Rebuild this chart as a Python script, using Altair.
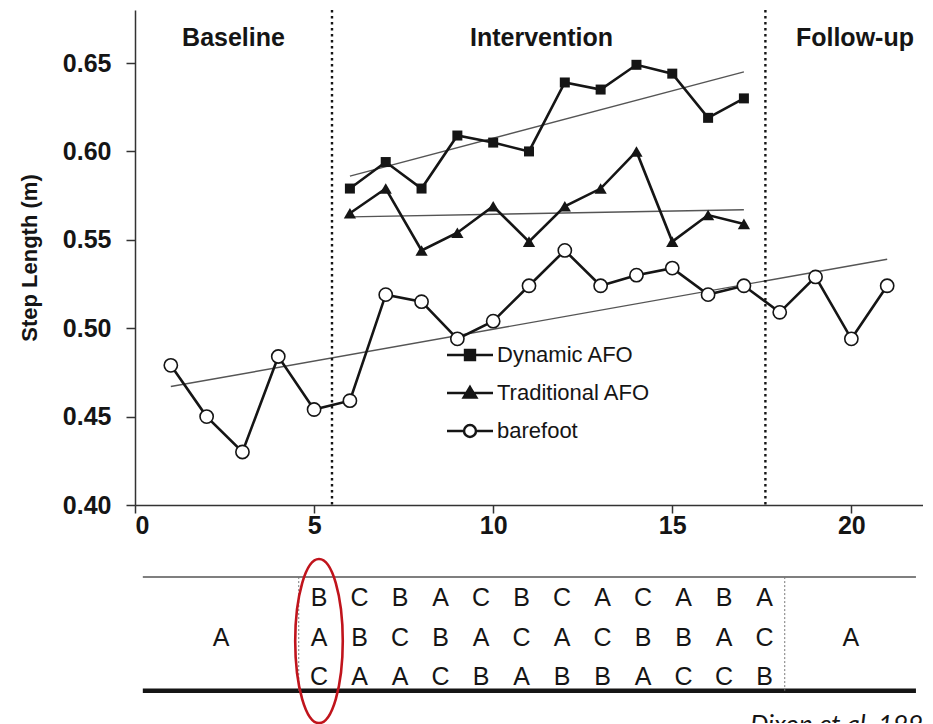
import altair as alt
import pandas as pd

# ---------------- data ----------------
bare_sessions = list(range(1, 22))
barefoot = [0.479, 0.450, 0.430, 0.484, 0.454, 0.459, 0.519, 0.515, 0.494, 0.504,
            0.524, 0.544, 0.524, 0.530, 0.534, 0.519, 0.524, 0.509, 0.529, 0.494, 0.524]

afo_sessions = list(range(6, 18))
dynamic_afo = [0.579, 0.594, 0.579, 0.609, 0.605, 0.600, 0.639, 0.635, 0.649, 0.644, 0.619, 0.630]
traditional_afo = [0.565, 0.579, 0.544, 0.554, 0.569, 0.549, 0.569, 0.579, 0.600, 0.549, 0.564, 0.559]

series_names = ["Dynamic AFO", "Traditional AFO", "barefoot"]

# linear trend lines (end points)
trend_sessions = {"Dynamic AFO": [6, 17], "Traditional AFO": [6, 17], "barefoot": [1, 21]}
trend_values = {"Dynamic AFO": [0.586, 0.645], "Traditional AFO": [0.563, 0.567], "barefoot": [0.467, 0.539]}

phase_boundaries = [5.5, 17.6]
phase_names = ["Baseline", "Intervention", "Follow-up"]
phase_centers = [2.75, 11.35, 20.1]
phase_label_level = 0.664

x_ticks = [0, 5, 10, 15, 20]
y_ticks = [0.40, 0.45, 0.50, 0.55, 0.60, 0.65]

# condition order table
baseline_condition = "A"
followup_condition = "A"
order_rows = ["BCBACBCACABA", "ABCBACACBBAC", "CAACBABBACCB"]
citation = "Dixon et al. 1999"

# ---------------- tables ----------------
rows = []
for s, v in zip(bare_sessions, barefoot):
    rows.append({"session": s, "value": v, "series": "barefoot"})
for s, v in zip(afo_sessions, dynamic_afo):
    rows.append({"session": s, "value": v, "series": "Dynamic AFO"})
for s, v in zip(afo_sessions, traditional_afo):
    rows.append({"session": s, "value": v, "series": "Traditional AFO"})
df = pd.DataFrame(rows)

trows = []
for name in series_names:
    for s, v in zip(trend_sessions[name], trend_values[name]):
        trows.append({"session": s, "value": v, "series": name})
tdf = pd.DataFrame(trows)

phase_df = pd.DataFrame({"session": phase_centers, "value": [phase_label_level] * 3, "label": phase_names})
bound_df = pd.DataFrame({"session": phase_boundaries})

FONT = "Liberation Sans"
INK = "#151515"

xenc = alt.X("session:Q", scale=alt.Scale(domain=[0, 22], nice=False),
             axis=alt.Axis(values=x_ticks, title=None, format="d", labelFontSize=25, labelFontWeight="bold",
                           labelPadding=0, tickSize=8))
yenc = alt.Y("value:Q", scale=alt.Scale(domain=[0.40, 0.68], nice=False, zero=False),
             axis=alt.Axis(values=y_ticks, format=".2f", title="Step Length (m)", labelFontSize=25,
                           labelFontWeight="bold", labelPadding=15, tickSize=9, titleFontSize=22,
                           titleFontWeight="bold", titlePadding=21))

lines = alt.Chart(df).mark_line(color=INK, strokeWidth=2.6).encode(x=xenc, y=yenc, detail="series:N")
trends = alt.Chart(tdf).mark_line(color="#555555", strokeWidth=1.4).encode(x=xenc, y=yenc, detail="series:N")
bounds = alt.Chart(bound_df).mark_rule(color=INK, strokeWidth=2.4, strokeDash=[2.5, 3.5]).encode(x=xenc)

sq = alt.Chart(df).transform_filter(alt.datum.series == "Dynamic AFO").mark_point(
    shape="square", filled=True, color=INK, size=100, opacity=1).encode(x=xenc, y=yenc)
tri = alt.Chart(df).transform_filter(alt.datum.series == "Traditional AFO").mark_point(
    shape="triangle-up", filled=True, color=INK, size=150, opacity=1).encode(x=xenc, y=yenc)
circ = alt.Chart(df).transform_filter(alt.datum.series == "barefoot").mark_point(
    shape="circle", filled=True, fill="white", stroke=INK, strokeWidth=1.6, size=175, opacity=1).encode(x=xenc, y=yenc)

phase_text = alt.Chart(phase_df).mark_text(font=FONT, fontSize=25, fontWeight="bold", color=INK).encode(
    x=xenc, y=yenc, text="label:N")

legend_paths = [
    "M-2,0H2M-0.43,-0.43H0.43V0.43H-0.43Z",
    "M-2,0H2M0,-0.52L0.55,0.4L-0.55,0.4Z",
    "M-2,0H-0.52M0.52,0H2M0.52,0A0.52,0.52,0,1,1,-0.52,0A0.52,0.52,0,1,1,0.52,0Z",
]
leg = alt.Legend(title=None, orient="none", legendX=322, legendY=332, symbolSize=529,
                 symbolStrokeWidth=2.5, labelFontSize=22, labelFont=FONT,
                 labelColor=INK, labelOffset=14, rowPadding=14, padding=0, symbolOpacity=1)
legend_layer = alt.Chart(df).transform_filter("false").mark_point(
    filled=True, stroke=INK, strokeWidth=2.5, opacity=1).encode(
    x=xenc, y=yenc,
    shape=alt.Shape("series:N", scale=alt.Scale(domain=series_names, range=legend_paths), legend=leg),
    fill=alt.Fill("series:N", scale=alt.Scale(domain=series_names, range=[INK, INK, "white"]), legend=leg),
)

top = alt.layer(trends, lines, bounds, sq, tri, circ, phase_text, legend_layer).properties(width=788, height=495)

# ---------------- condition order table ----------------
letters = []
for ri, row in enumerate(order_rows):
    for ci, ch in enumerate(row):
        letters.append({"c": ci + 1, "r": ri + 1, "t": ch})
n_cols = len(order_rows[0])
letters.append({"c": -1.42, "r": 2, "t": baseline_condition})
letters.append({"c": n_cols + 2.13, "r": 2, "t": followup_condition})
letters_df = pd.DataFrame(letters)

left_edge, right_edge = -3.35, n_cols + 3.74
top_rule_r, bottom_rule_r = 0.47, 3.35
hrule_df = pd.DataFrame({"c": [left_edge, left_edge], "c2": [right_edge, right_edge],
                         "r": [top_rule_r, bottom_rule_r], "kind": ["thin", "thick"]})
vrule_df = pd.DataFrame({"c": [0.5, n_cols + 0.5], "r": [top_rule_r] * 2, "r2": [bottom_rule_r] * 2})
ellipse_df = pd.DataFrame({"c": [1], "r": [2.09]})
cite_df = pd.DataFrame({"c": [11.64], "r": [3.88], "t": [citation]})

cx = alt.X("c:Q", scale=alt.Scale(domain=[-3.543, 15.914], nice=False, zero=False), axis=None)
ry = alt.Y("r:Q", scale=alt.Scale(domain=[-0.19, 4.164], nice=False, zero=False, reverse=True), axis=None)

thin_rule = alt.Chart(hrule_df).transform_filter(alt.datum.kind == "thin").mark_rule(
    color="#555555", strokeWidth=1.6).encode(x=cx, x2="c2:Q", y=ry)
thick_rule = alt.Chart(hrule_df).transform_filter(alt.datum.kind == "thick").mark_rule(
    color=INK, strokeWidth=4.5).encode(x=cx, x2="c2:Q", y=ry)
vrules = alt.Chart(vrule_df).mark_rule(color="#777777", strokeWidth=1, strokeDash=[2, 2]).encode(
    x=cx, y=ry, y2="r2:Q")
letter_text = alt.Chart(letters_df).mark_text(font=FONT, fontSize=25, color=INK).encode(x=cx, y=ry, text="t:N")
ellipse = alt.Chart(ellipse_df).mark_point(
    shape="M-0.29,0A0.29,1,0,1,1,0.29,0A0.29,1,0,1,1,-0.29,0Z", filled=False, stroke="#c0141c",
    strokeWidth=2.6, size=26896, opacity=1).encode(x=cx, y=ry)
cite = alt.Chart(cite_df).mark_text(font="Lato", fontSize=26, fontStyle="italic", color=INK,
                                    align="left", baseline="top", clip=True).encode(x=cx, y=ry, text="t:N")

table = alt.layer(thin_rule, thick_rule, vrules, letter_text, ellipse, cite).properties(width=788, height=172)

chart = alt.vconcat(top, table, spacing=46, bounds="flush").properties(
    padding={"left": 10, "top": 0, "right": 0, "bottom": 0}, background="white"
).configure_view(stroke=None).configure_axis(
    grid=False, domainColor="#333333", domainWidth=1.5, tickColor="#333333", tickWidth=1.5,
    labelFont=FONT, titleFont=FONT, labelColor=INK, titleColor=INK
)

chart.save("out.html", embed_options={"renderer": "svg", "actions": False})
